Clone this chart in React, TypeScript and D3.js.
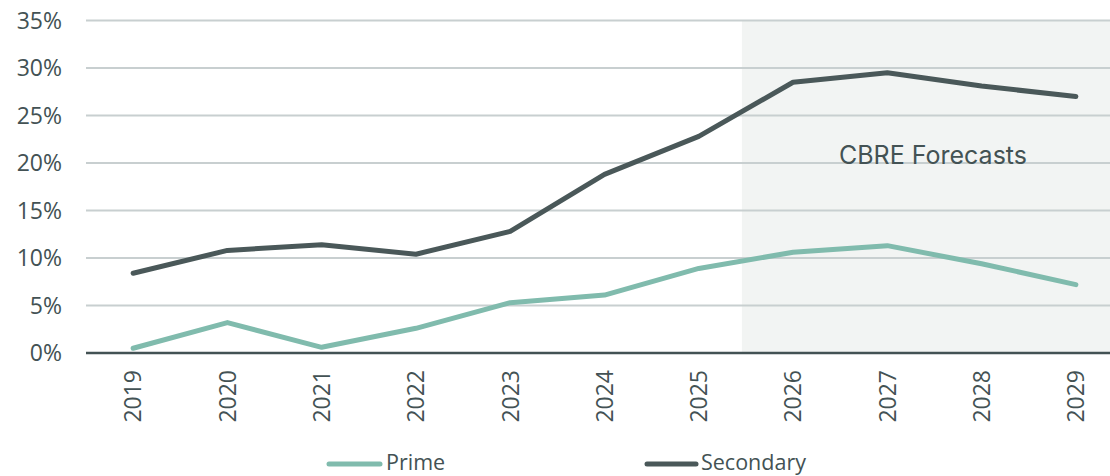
import React from "react";
import * as d3 from "d3";

const years = ["2019", "2020", "2021", "2022", "2023", "2024", "2025", "2026", "2027", "2028", "2029"];
const prime = [0.5, 3.2, 0.6, 2.6, 5.3, 6.1, 8.9, 10.6, 11.3, 9.4, 7.2];
const secondary = [8.4, 10.8, 11.4, 10.4, 12.8, 18.8, 22.8, 28.5, 29.5, 28.1, 27.0];
const yTicks = [0, 5, 10, 15, 20, 25, 30, 35];
const forecastStart = "2026";
const forecastLabel = "CBRE Forecasts";

const W = 1110;
const H = 476;
const margin = { left: 86, top: 20.5, bottom: 123 };
const plotRight = 1123;
const FONT = "'Open Sans', sans-serif";
const TEXT = "#435254";
const PRIME = "#80bbad";
const SECONDARY = "#4a5859";

export default function App() {
  const x = d3.scaleBand<string>().domain(years).range([margin.left, plotRight]).padding(0);
  const y = d3.scaleLinear().domain([0, 35]).range([H - margin.bottom, margin.top]);
  const cx = (yr: string) => (x(yr) ?? 0) + x.bandwidth() / 2;

  const line = d3
    .line<number>()
    .x((_, i) => cx(years[i]))
    .y((d) => y(d));

  // forecast shading begins just before the first forecast year's band
  const shadeX = (x(forecastStart) ?? 0) - 4;

  return (
    <div style={{ position: "absolute", left: 0, top: 0 }}>
      <svg width={W} height={H} style={{ display: "block" }}>
        <rect x={0} y={0} width={W} height={H} fill="#ffffff" />
        <rect
          x={shadeX}
          y={y(35)}
          width={W - shadeX}
          height={y(0) - y(35)}
          fill="#f2f4f3"
        />
        {yTicks.map((t) => (
          <g key={t}>
            {t > 0 && (
              <line x1={margin.left} x2={W} y1={y(t)} y2={y(t)} stroke="#c8cfd0" strokeWidth={2} />
            )}
            <text
              x={62}
              y={y(t)}
              dy="0.36em"
              textAnchor="end"
              fontFamily={FONT}
              fontSize={23}
              fill={TEXT}
            >
              {t}%
            </text>
          </g>
        ))}
        <text
          x={933}
          y={164}
          textAnchor="middle"
          fontFamily="Inter, sans-serif"
          fontSize={25}
          fill={TEXT}
        >
          {forecastLabel}
        </text>
        <path d={line(secondary) ?? ""} fill="none" stroke={SECONDARY} strokeWidth={5} strokeLinejoin="round" strokeLinecap="round" />
        <path d={line(prime) ?? ""} fill="none" stroke={PRIME} strokeWidth={5} strokeLinejoin="round" strokeLinecap="round" />
        <line x1={margin.left} x2={W} y1={y(0)} y2={y(0)} stroke={TEXT} strokeWidth={2.5} />
        {years.map((yr) => (
          <text
            key={yr}
            transform={`translate(${cx(yr)},${y(0) + 17}) rotate(-90)`}
            dy="0.36em"
            textAnchor="end"
            fontFamily={FONT}
            fontSize={23}
            fill={TEXT}
          >
            {yr}
          </text>
        ))}
        <g>
          <line x1={329} x2={380} y1={464} y2={464} stroke={PRIME} strokeWidth={5} strokeLinecap="round" />
          <text x={386} y={470} fontFamily={FONT} fontSize={21.5} fill={TEXT}>Prime</text>
          <line x1={647} x2={696} y1={464} y2={464} stroke={SECONDARY} strokeWidth={5} strokeLinecap="round" />
          <text x={701} y={470} fontFamily={FONT} fontSize={21.5} fill={TEXT}>Secondary</text>
        </g>
      </svg>
    </div>
  );
}
